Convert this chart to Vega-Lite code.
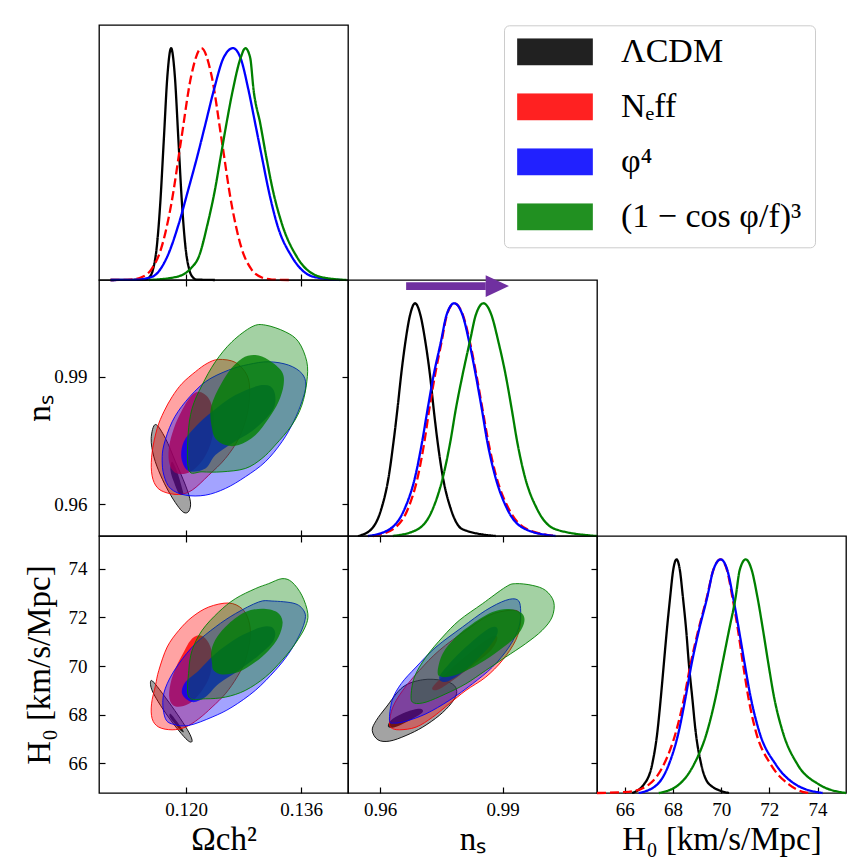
{
"$schema": "https://vega.github.io/schema/vega-lite/v6.json",
"background": "white",
"padding": {"left": 22, "top": 24, "right": 5, "bottom": 5},
"autosize": {"type": "pad"},
"columns": 3,
"spacing": 0,
"bounds": "flush",
"datasets": {
"omc1d": [
{"m":"ΛCDM","x":0.1095,"h":0},{"m":"ΛCDM","x":0.11438,"h":0.002},{"m":"ΛCDM","x":0.11488,"h":0.011},{"m":"ΛCDM","x":0.11539,"h":0.044},{"m":"ΛCDM","x":0.1159,"h":0.135},{"m":"ΛCDM","x":0.1164,"h":0.325},{"m":"ΛCDM","x":0.11691,"h":0.607},{"m":"ΛCDM","x":0.11741,"h":0.883},{"m":"ΛCDM","x":0.11792,"h":1},{"m":"ΛCDM","x":0.11843,"h":0.883},{"m":"ΛCDM","x":0.11893,"h":0.607},{"m":"ΛCDM","x":0.11944,"h":0.325},{"m":"ΛCDM","x":0.11994,"h":0.135},{"m":"ΛCDM","x":0.12045,"h":0.044},{"m":"ΛCDM","x":0.12096,"h":0.011},{"m":"ΛCDM","x":0.12146,"h":0.002},{"m":"ΛCDM","x":0.124,"h":0},
{"m":"Nₑff","x":0.1095,"h":0},{"m":"Nₑff","x":0.11233,"h":0.002},{"m":"Nₑff","x":0.11373,"h":0.011},{"m":"Nₑff","x":0.11513,"h":0.044},{"m":"Nₑff","x":0.11653,"h":0.135},{"m":"Nₑff","x":0.11793,"h":0.325},{"m":"Nₑff","x":0.11933,"h":0.607},{"m":"Nₑff","x":0.12073,"h":0.883},{"m":"Nₑff","x":0.12213,"h":1},{"m":"Nₑff","x":0.12353,"h":0.883},{"m":"Nₑff","x":0.12493,"h":0.607},{"m":"Nₑff","x":0.12633,"h":0.325},{"m":"Nₑff","x":0.12773,"h":0.135},{"m":"Nₑff","x":0.12913,"h":0.044},{"m":"Nₑff","x":0.13053,"h":0.011},{"m":"Nₑff","x":0.13193,"h":0.002},{"m":"Nₑff","x":0.1345,"h":0},
{"m":"φ⁴","x":0.1095,"h":0},{"m":"φ⁴","x":0.11298,"h":0.001},{"m":"φ⁴","x":0.11529,"h":0.014},{"m":"φ⁴","x":0.11737,"h":0.1},{"m":"φ⁴","x":0.11899,"h":0.243},{"m":"φ⁴","x":0.12028,"h":0.387},{"m":"φ⁴","x":0.12153,"h":0.53},{"m":"φ⁴","x":0.12269,"h":0.673},{"m":"φ⁴","x":0.12384,"h":0.817},{"m":"φ⁴","x":0.12523,"h":0.96},{"m":"φ⁴","x":0.12652,"h":1},{"m":"φ⁴","x":0.12754,"h":0.96},{"m":"φ⁴","x":0.12869,"h":0.817},{"m":"φ⁴","x":0.12962,"h":0.673},{"m":"φ⁴","x":0.13054,"h":0.53},{"m":"φ⁴","x":0.13147,"h":0.387},{"m":"φ⁴","x":0.13262,"h":0.243},{"m":"φ⁴","x":0.1347,"h":0.1},{"m":"φ⁴","x":0.13771,"h":0.014},{"m":"φ⁴","x":0.14141,"h":0},
{"m":"(1 − cos φ/f)³","x":0.11483,"h":0},{"m":"(1 − cos φ/f)³","x":0.11871,"h":0.014},{"m":"(1 − cos φ/f)³","x":0.12065,"h":0.05},{"m":"(1 − cos φ/f)³","x":0.12176,"h":0.1},{"m":"(1 − cos φ/f)³","x":0.123,"h":0.243},{"m":"(1 − cos φ/f)³","x":0.124,"h":0.387},{"m":"(1 − cos φ/f)³","x":0.1248,"h":0.53},{"m":"(1 − cos φ/f)³","x":0.1256,"h":0.673},{"m":"(1 − cos φ/f)³","x":0.12648,"h":0.817},{"m":"(1 − cos φ/f)³","x":0.1276,"h":0.96},{"m":"(1 − cos φ/f)³","x":0.12824,"h":1},{"m":"(1 − cos φ/f)³","x":0.1289,"h":0.96},{"m":"(1 − cos φ/f)³","x":0.12939,"h":0.817},{"m":"(1 − cos φ/f)³","x":0.13032,"h":0.673},{"m":"(1 − cos φ/f)³","x":0.13115,"h":0.53},{"m":"(1 − cos φ/f)³","x":0.13206,"h":0.387},{"m":"(1 − cos φ/f)³","x":0.13331,"h":0.243},{"m":"(1 − cos φ/f)³","x":0.13539,"h":0.1},{"m":"(1 − cos φ/f)³","x":0.13864,"h":0.014},{"m":"(1 − cos φ/f)³","x":0.14228,"h":0}
],
"ns1d": [
{"m":"ΛCDM","x":0.95454,"h":0},{"m":"ΛCDM","x":0.9578,"h":0.029},{"m":"ΛCDM","x":0.96024,"h":0.115},{"m":"ΛCDM","x":0.96211,"h":0.259},{"m":"ΛCDM","x":0.96324,"h":0.403},{"m":"ΛCDM","x":0.96422,"h":0.547},{"m":"ΛCDM","x":0.96511,"h":0.691},{"m":"ΛCDM","x":0.96617,"h":0.835},{"m":"ΛCDM","x":0.96731,"h":0.95},{"m":"ΛCDM","x":0.96853,"h":1},{"m":"ΛCDM","x":0.96983,"h":0.95},{"m":"ΛCDM","x":0.97105,"h":0.835},{"m":"ΛCDM","x":0.97219,"h":0.691},{"m":"ΛCDM","x":0.97308,"h":0.547},{"m":"ΛCDM","x":0.97406,"h":0.403},{"m":"ΛCDM","x":0.97528,"h":0.259},{"m":"ΛCDM","x":0.97731,"h":0.115},{"m":"ΛCDM","x":0.98015,"h":0.029},{"m":"ΛCDM","x":0.98828,"h":0},
{"m":"Nₑff","x":0.9582,"h":0},{"m":"Nₑff","x":0.96308,"h":0.029},{"m":"Nₑff","x":0.96674,"h":0.115},{"m":"Nₑff","x":0.96926,"h":0.259},{"m":"Nₑff","x":0.9708,"h":0.403},{"m":"Nₑff","x":0.97203,"h":0.547},{"m":"Nₑff","x":0.97341,"h":0.691},{"m":"Nₑff","x":0.97503,"h":0.835},{"m":"Nₑff","x":0.97633,"h":0.95},{"m":"Nₑff","x":0.97812,"h":1},{"m":"Nₑff","x":0.98024,"h":0.95},{"m":"Nₑff","x":0.98194,"h":0.835},{"m":"Nₑff","x":0.98357,"h":0.691},{"m":"Nₑff","x":0.98503,"h":0.547},{"m":"Nₑff","x":0.9865,"h":0.403},{"m":"Nₑff","x":0.98837,"h":0.259},{"m":"Nₑff","x":0.99154,"h":0.115},{"m":"Nₑff","x":0.99601,"h":0.029},{"m":"Nₑff","x":1.00292,"h":0},
{"m":"φ⁴","x":0.95698,"h":0},{"m":"φ⁴","x":0.96227,"h":0.029},{"m":"φ⁴","x":0.96593,"h":0.115},{"m":"φ⁴","x":0.96861,"h":0.259},{"m":"φ⁴","x":0.97024,"h":0.403},{"m":"φ⁴","x":0.97162,"h":0.547},{"m":"φ⁴","x":0.97308,"h":0.691},{"m":"φ⁴","x":0.97487,"h":0.835},{"m":"φ⁴","x":0.97625,"h":0.95},{"m":"φ⁴","x":0.97812,"h":1},{"m":"φ⁴","x":0.98015,"h":0.95},{"m":"φ⁴","x":0.98178,"h":0.835},{"m":"φ⁴","x":0.98341,"h":0.691},{"m":"φ⁴","x":0.98487,"h":0.547},{"m":"φ⁴","x":0.98625,"h":0.403},{"m":"φ⁴","x":0.98812,"h":0.259},{"m":"φ⁴","x":0.99113,"h":0.115},{"m":"φ⁴","x":0.9956,"h":0.029},{"m":"φ⁴","x":1.00292,"h":0},
{"m":"(1 − cos φ/f)³","x":0.96308,"h":0},{"m":"(1 − cos φ/f)³","x":0.96918,"h":0.029},{"m":"(1 − cos φ/f)³","x":0.97284,"h":0.115},{"m":"(1 − cos φ/f)³","x":0.97544,"h":0.259},{"m":"(1 − cos φ/f)³","x":0.97715,"h":0.403},{"m":"(1 − cos φ/f)³","x":0.97853,"h":0.547},{"m":"(1 − cos φ/f)³","x":0.98015,"h":0.691},{"m":"(1 − cos φ/f)³","x":0.98194,"h":0.835},{"m":"(1 − cos φ/f)³","x":0.98341,"h":0.95},{"m":"(1 − cos φ/f)³","x":0.98528,"h":1},{"m":"(1 − cos φ/f)³","x":0.98723,"h":0.95},{"m":"(1 − cos φ/f)³","x":0.98894,"h":0.835},{"m":"(1 − cos φ/f)³","x":0.99073,"h":0.691},{"m":"(1 − cos φ/f)³","x":0.99219,"h":0.547},{"m":"(1 − cos φ/f)³","x":0.99357,"h":0.403},{"m":"(1 − cos φ/f)³","x":0.99536,"h":0.259},{"m":"(1 − cos φ/f)³","x":0.99845,"h":0.115},{"m":"(1 − cos φ/f)³","x":1.00292,"h":0.029},{"m":"(1 − cos φ/f)³","x":1.01308,"h":0}
],
"h01d": [
{"m":"ΛCDM","x":66.305,"h":0},{"m":"ΛCDM","x":66.79,"h":0.036},{"m":"ΛCDM","x":67.137,"h":0.122},{"m":"ΛCDM","x":67.359,"h":0.265},{"m":"ΛCDM","x":67.498,"h":0.409},{"m":"ΛCDM","x":67.622,"h":0.552},{"m":"ΛCDM","x":67.747,"h":0.696},{"m":"ΛCDM","x":67.886,"h":0.839},{"m":"ΛCDM","x":68.011,"h":0.954},{"m":"ΛCDM","x":68.149,"h":1},{"m":"ΛCDM","x":68.288,"h":0.954},{"m":"ΛCDM","x":68.413,"h":0.839},{"m":"ΛCDM","x":68.551,"h":0.696},{"m":"ΛCDM","x":68.662,"h":0.552},{"m":"ΛCDM","x":68.801,"h":0.409},{"m":"ΛCDM","x":68.94,"h":0.265},{"m":"ΛCDM","x":69.175,"h":0.122},{"m":"ΛCDM","x":69.522,"h":0.036},{"m":"ΛCDM","x":70.326,"h":0},
{"m":"Nₑff","x":64.85,"h":0},{"m":"Nₑff","x":66.166,"h":0.005},{"m":"Nₑff","x":66.998,"h":0.036},{"m":"Nₑff","x":67.622,"h":0.122},{"m":"Nₑff","x":68.135,"h":0.265},{"m":"Nₑff","x":68.468,"h":0.409},{"m":"Nₑff","x":68.732,"h":0.552},{"m":"Nₑff","x":69.05,"h":0.696},{"m":"Nₑff","x":69.411,"h":0.839},{"m":"Nₑff","x":69.674,"h":0.954},{"m":"Nₑff","x":69.98,"h":1},{"m":"Nₑff","x":70.243,"h":0.954},{"m":"Nₑff","x":70.465,"h":0.839},{"m":"Nₑff","x":70.701,"h":0.696},{"m":"Nₑff","x":70.909,"h":0.552},{"m":"Nₑff","x":71.13,"h":0.409},{"m":"Nₑff","x":71.435,"h":0.265},{"m":"Nₑff","x":72.059,"h":0.122},{"m":"Nₑff","x":72.822,"h":0.036},{"m":"Nₑff","x":73.377,"h":0.005},{"m":"Nₑff","x":73.654,"h":0},
{"m":"φ⁴","x":66.582,"h":0},{"m":"φ⁴","x":67.345,"h":0.036},{"m":"φ⁴","x":67.83,"h":0.122},{"m":"φ⁴","x":68.246,"h":0.265},{"m":"φ⁴","x":68.524,"h":0.409},{"m":"φ⁴","x":68.773,"h":0.552},{"m":"φ⁴","x":69.078,"h":0.696},{"m":"φ⁴","x":69.425,"h":0.839},{"m":"φ⁴","x":69.674,"h":0.954},{"m":"φ⁴","x":69.98,"h":1},{"m":"φ⁴","x":70.257,"h":0.954},{"m":"φ⁴","x":70.493,"h":0.839},{"m":"φ⁴","x":70.742,"h":0.696},{"m":"φ⁴","x":70.978,"h":0.552},{"m":"φ⁴","x":71.227,"h":0.409},{"m":"φ⁴","x":71.574,"h":0.265},{"m":"φ⁴","x":72.267,"h":0.122},{"m":"φ⁴","x":73.099,"h":0.036},{"m":"φ⁴","x":74.208,"h":0},
{"m":"(1 − cos φ/f)³","x":67.414,"h":0},{"m":"(1 − cos φ/f)³","x":68.246,"h":0.036},{"m":"(1 − cos φ/f)³","x":68.87,"h":0.122},{"m":"(1 − cos φ/f)³","x":69.425,"h":0.265},{"m":"(1 − cos φ/f)³","x":69.771,"h":0.409},{"m":"(1 − cos φ/f)³","x":70.049,"h":0.552},{"m":"(1 − cos φ/f)³","x":70.326,"h":0.696},{"m":"(1 − cos φ/f)³","x":70.603,"h":0.839},{"m":"(1 − cos φ/f)³","x":70.77,"h":0.954},{"m":"(1 − cos φ/f)³","x":71.019,"h":1},{"m":"(1 − cos φ/f)³","x":71.269,"h":0.954},{"m":"(1 − cos φ/f)³","x":71.505,"h":0.839},{"m":"(1 − cos φ/f)³","x":71.74,"h":0.696},{"m":"(1 − cos φ/f)³","x":71.962,"h":0.552},{"m":"(1 − cos φ/f)³","x":72.198,"h":0.409},{"m":"(1 − cos φ/f)³","x":72.545,"h":0.265},{"m":"(1 − cos φ/f)³","x":73.169,"h":0.122},{"m":"(1 − cos φ/f)³","x":74.07,"h":0.036},{"m":"(1 − cos φ/f)³","x":75.179,"h":0}
],
"c_on": [
{"m":"ΛCDM","cl":95,"i":0,"x":0.11575,"y":0.97877},{"m":"ΛCDM","cl":95,"i":1,"x":0.11714,"y":0.97548},{"m":"ΛCDM","cl":95,"i":2,"x":0.11853,"y":0.96997},{"m":"ΛCDM","cl":95,"i":3,"x":0.11991,"y":0.96448},{"m":"ΛCDM","cl":95,"i":4,"x":0.12061,"y":0.96055},{"m":"ΛCDM","cl":95,"i":5,"x":0.12038,"y":0.95835},{"m":"ΛCDM","cl":95,"i":6,"x":0.11968,"y":0.95804},{"m":"ΛCDM","cl":95,"i":7,"x":0.11876,"y":0.95976},{"m":"ΛCDM","cl":95,"i":8,"x":0.1176,"y":0.9629},{"m":"ΛCDM","cl":95,"i":9,"x":0.11645,"y":0.96683},{"m":"ΛCDM","cl":95,"i":10,"x":0.11552,"y":0.97115},{"m":"ΛCDM","cl":95,"i":11,"x":0.11515,"y":0.97548},
{"m":"ΛCDM","cl":68,"i":0,"x":0.11806,"y":0.96997},{"m":"ΛCDM","cl":68,"i":1,"x":0.11876,"y":0.96762},{"m":"ΛCDM","cl":68,"i":2,"x":0.11945,"y":0.96369},{"m":"ΛCDM","cl":68,"i":3,"x":0.11959,"y":0.96228},{"m":"ΛCDM","cl":68,"i":4,"x":0.11899,"y":0.96251},{"m":"ΛCDM","cl":68,"i":5,"x":0.1183,"y":0.96526},{"m":"ΛCDM","cl":68,"i":6,"x":0.11783,"y":0.96801},
{"m":"Nₑff","cl":95,"i":0,"x":0.12453,"y":0.99409},{"m":"Nₑff","cl":95,"i":1,"x":0.12685,"y":0.99339},{"m":"Nₑff","cl":95,"i":2,"x":0.12846,"y":0.9904},{"m":"Nₑff","cl":95,"i":3,"x":0.12883,"y":0.98647},{"m":"Nₑff","cl":95,"i":4,"x":0.12846,"y":0.98097},{"m":"Nₑff","cl":95,"i":5,"x":0.12731,"y":0.97548},{"m":"Nₑff","cl":95,"i":6,"x":0.12546,"y":0.97076},{"m":"Nₑff","cl":95,"i":7,"x":0.12315,"y":0.96683},{"m":"Nₑff","cl":95,"i":8,"x":0.12084,"y":0.9633},{"m":"Nₑff","cl":95,"i":9,"x":0.11899,"y":0.96228},{"m":"Nₑff","cl":95,"i":10,"x":0.11691,"y":0.9629},{"m":"Nₑff","cl":95,"i":11,"x":0.11575,"y":0.96448},{"m":"Nₑff","cl":95,"i":12,"x":0.1152,"y":0.96762},{"m":"Nₑff","cl":95,"i":13,"x":0.11529,"y":0.97233},{"m":"Nₑff","cl":95,"i":14,"x":0.11598,"y":0.97783},{"m":"Nₑff","cl":95,"i":15,"x":0.11691,"y":0.98176},{"m":"Nₑff","cl":95,"i":16,"x":0.11806,"y":0.98529},{"m":"Nₑff","cl":95,"i":17,"x":0.11945,"y":0.98844},{"m":"Nₑff","cl":95,"i":18,"x":0.1213,"y":0.99119},{"m":"Nₑff","cl":95,"i":19,"x":0.12292,"y":0.99315},
{"m":"Nₑff","cl":68,"i":0,"x":0.12176,"y":0.98647},{"m":"Nₑff","cl":68,"i":1,"x":0.12315,"y":0.9849},{"m":"Nₑff","cl":68,"i":2,"x":0.12384,"y":0.98097},{"m":"Nₑff","cl":68,"i":3,"x":0.12361,"y":0.97548},{"m":"Nₑff","cl":68,"i":4,"x":0.12246,"y":0.97076},{"m":"Nₑff","cl":68,"i":5,"x":0.12061,"y":0.96762},{"m":"Nₑff","cl":68,"i":6,"x":0.11876,"y":0.96723},{"m":"Nₑff","cl":68,"i":7,"x":0.11774,"y":0.96919},{"m":"Nₑff","cl":68,"i":8,"x":0.1176,"y":0.97312},{"m":"Nₑff","cl":68,"i":9,"x":0.1183,"y":0.97783},{"m":"Nₑff","cl":68,"i":10,"x":0.11945,"y":0.98215},{"m":"Nₑff","cl":68,"i":11,"x":0.12061,"y":0.98529},
{"m":"φ⁴","cl":95,"i":0,"x":0.11691,"y":0.97391},{"m":"φ⁴","cl":95,"i":1,"x":0.11806,"y":0.9794},{"m":"φ⁴","cl":95,"i":2,"x":0.11991,"y":0.98412},{"m":"φ⁴","cl":95,"i":3,"x":0.12269,"y":0.98883},{"m":"φ⁴","cl":95,"i":4,"x":0.12592,"y":0.99158},{"m":"φ⁴","cl":95,"i":5,"x":0.12869,"y":0.99291},{"m":"φ⁴","cl":95,"i":6,"x":0.13147,"y":0.99354},{"m":"φ⁴","cl":95,"i":7,"x":0.13424,"y":0.99276},{"m":"φ⁴","cl":95,"i":8,"x":0.13609,"y":0.99079},{"m":"φ⁴","cl":95,"i":9,"x":0.13664,"y":0.98804},{"m":"φ⁴","cl":95,"i":10,"x":0.13609,"y":0.98412},{"m":"φ⁴","cl":95,"i":11,"x":0.13493,"y":0.9794},{"m":"φ⁴","cl":95,"i":12,"x":0.13332,"y":0.97469},{"m":"φ⁴","cl":95,"i":13,"x":0.13101,"y":0.96997},{"m":"φ⁴","cl":95,"i":14,"x":0.12823,"y":0.96644},{"m":"φ⁴","cl":95,"i":15,"x":0.12546,"y":0.96369},{"m":"φ⁴","cl":95,"i":16,"x":0.12269,"y":0.96212},{"m":"φ⁴","cl":95,"i":17,"x":0.11991,"y":0.96212},{"m":"φ⁴","cl":95,"i":18,"x":0.11783,"y":0.96369},{"m":"φ⁴","cl":95,"i":19,"x":0.11691,"y":0.96683},{"m":"φ⁴","cl":95,"i":20,"x":0.11668,"y":0.97037},
{"m":"φ⁴","cl":68,"i":0,"x":0.11968,"y":0.97469},{"m":"φ⁴","cl":68,"i":1,"x":0.1213,"y":0.97822},{"m":"φ⁴","cl":68,"i":2,"x":0.12361,"y":0.98176},{"m":"φ⁴","cl":68,"i":3,"x":0.12685,"y":0.98569},{"m":"φ⁴","cl":68,"i":4,"x":0.13054,"y":0.98804},{"m":"φ⁴","cl":68,"i":5,"x":0.13216,"y":0.98687},{"m":"φ⁴","cl":68,"i":6,"x":0.13216,"y":0.98255},{"m":"φ⁴","cl":68,"i":7,"x":0.12962,"y":0.97783},{"m":"φ⁴","cl":68,"i":8,"x":0.12638,"y":0.9743},{"m":"φ⁴","cl":68,"i":9,"x":0.12407,"y":0.97155},{"m":"φ⁴","cl":68,"i":10,"x":0.12269,"y":0.9684},{"m":"φ⁴","cl":68,"i":11,"x":0.12038,"y":0.96778},{"m":"φ⁴","cl":68,"i":12,"x":0.11936,"y":0.97076},
{"m":"(1 − cos φ/f)³","cl":95,"i":0,"x":0.12038,"y":0.96801},{"m":"(1 − cos φ/f)³","cl":95,"i":1,"x":0.12028,"y":0.97626},{"m":"(1 − cos φ/f)³","cl":95,"i":2,"x":0.12084,"y":0.98255},{"m":"(1 − cos φ/f)³","cl":95,"i":3,"x":0.12222,"y":0.98804},{"m":"(1 − cos φ/f)³","cl":95,"i":4,"x":0.12407,"y":0.99354},{"m":"(1 − cos φ/f)³","cl":95,"i":5,"x":0.12638,"y":0.99826},{"m":"(1 − cos φ/f)³","cl":95,"i":6,"x":0.12916,"y":1.00179},{"m":"(1 − cos φ/f)³","cl":95,"i":7,"x":0.13101,"y":1.00218},{"m":"(1 − cos φ/f)³","cl":95,"i":8,"x":0.13378,"y":1.00061},{"m":"(1 − cos φ/f)³","cl":95,"i":9,"x":0.13562,"y":0.99826},{"m":"(1 − cos φ/f)³","cl":95,"i":10,"x":0.13678,"y":0.99354},{"m":"(1 − cos φ/f)³","cl":95,"i":11,"x":0.13678,"y":0.98883},{"m":"(1 − cos φ/f)³","cl":95,"i":12,"x":0.13609,"y":0.98333},{"m":"(1 − cos φ/f)³","cl":95,"i":13,"x":0.1347,"y":0.97862},{"m":"(1 − cos φ/f)³","cl":95,"i":14,"x":0.13239,"y":0.97391},{"m":"(1 − cos φ/f)³","cl":95,"i":15,"x":0.13054,"y":0.97076},{"m":"(1 − cos φ/f)³","cl":95,"i":16,"x":0.12823,"y":0.9684},{"m":"(1 − cos φ/f)³","cl":95,"i":17,"x":0.125,"y":0.96762},{"m":"(1 − cos φ/f)³","cl":95,"i":18,"x":0.12222,"y":0.96762},
{"m":"(1 − cos φ/f)³","cl":68,"i":0,"x":0.12361,"y":0.97783},{"m":"(1 − cos φ/f)³","cl":68,"i":1,"x":0.12338,"y":0.98176},{"m":"(1 − cos φ/f)³","cl":68,"i":2,"x":0.12407,"y":0.98569},{"m":"(1 − cos φ/f)³","cl":68,"i":3,"x":0.12592,"y":0.99119},{"m":"(1 − cos φ/f)³","cl":68,"i":4,"x":0.12777,"y":0.99433},{"m":"(1 − cos φ/f)³","cl":68,"i":5,"x":0.12962,"y":0.99511},{"m":"(1 − cos φ/f)³","cl":68,"i":6,"x":0.13147,"y":0.99394},{"m":"(1 − cos φ/f)³","cl":68,"i":7,"x":0.13332,"y":0.99119},{"m":"(1 − cos φ/f)³","cl":68,"i":8,"x":0.13355,"y":0.98804},{"m":"(1 − cos φ/f)³","cl":68,"i":9,"x":0.13285,"y":0.98412},{"m":"(1 − cos φ/f)³","cl":68,"i":10,"x":0.13147,"y":0.98019},{"m":"(1 − cos φ/f)³","cl":68,"i":11,"x":0.12962,"y":0.97626},{"m":"(1 − cos φ/f)³","cl":68,"i":12,"x":0.12731,"y":0.97391},{"m":"(1 − cos φ/f)³","cl":68,"i":13,"x":0.12546,"y":0.97391},{"m":"(1 − cos φ/f)³","cl":68,"i":14,"x":0.12407,"y":0.97548}
],
"c_oh": [
{"m":"ΛCDM","cl":95,"i":0,"x":0.1152,"y":69.41},{"m":"ΛCDM","cl":95,"i":1,"x":0.11598,"y":69.163},{"m":"ΛCDM","cl":95,"i":2,"x":0.1176,"y":68.518},{"m":"ΛCDM","cl":95,"i":3,"x":0.11922,"y":67.832},{"m":"ΛCDM","cl":95,"i":4,"x":0.12038,"y":67.283},{"m":"ΛCDM","cl":95,"i":5,"x":0.12084,"y":66.94},{"m":"ΛCDM","cl":95,"i":6,"x":0.12051,"y":66.885},{"m":"ΛCDM","cl":95,"i":7,"x":0.11968,"y":67.105},{"m":"ΛCDM","cl":95,"i":8,"x":0.11806,"y":67.695},{"m":"ΛCDM","cl":95,"i":9,"x":0.11645,"y":68.381},{"m":"ΛCDM","cl":95,"i":10,"x":0.11538,"y":68.93},{"m":"ΛCDM","cl":95,"i":11,"x":0.11506,"y":69.245},
{"m":"ΛCDM","cl":68,"i":0,"x":0.11783,"y":68.038},{"m":"ΛCDM","cl":68,"i":1,"x":0.11862,"y":67.763},{"m":"ΛCDM","cl":68,"i":2,"x":0.11945,"y":67.42},{"m":"ΛCDM","cl":68,"i":3,"x":0.11968,"y":67.283},{"m":"ΛCDM","cl":68,"i":4,"x":0.11922,"y":67.352},{"m":"ΛCDM","cl":68,"i":5,"x":0.11843,"y":67.626},{"m":"ΛCDM","cl":68,"i":6,"x":0.11774,"y":67.901},
{"m":"Nₑff","cl":95,"i":0,"x":0.12592,"y":72.594},{"m":"Nₑff","cl":95,"i":1,"x":0.12777,"y":72.36},{"m":"Nₑff","cl":95,"i":2,"x":0.12869,"y":71.88},{"m":"Nₑff","cl":95,"i":3,"x":0.12892,"y":71.194},{"m":"Nₑff","cl":95,"i":4,"x":0.12823,"y":70.234},{"m":"Nₑff","cl":95,"i":5,"x":0.12708,"y":69.547},{"m":"Nₑff","cl":95,"i":6,"x":0.12546,"y":68.861},{"m":"Nₑff","cl":95,"i":7,"x":0.12361,"y":68.312},{"m":"Nₑff","cl":95,"i":8,"x":0.12176,"y":67.832},{"m":"Nₑff","cl":95,"i":9,"x":0.11991,"y":67.489},{"m":"Nₑff","cl":95,"i":10,"x":0.11806,"y":67.379},{"m":"Nₑff","cl":95,"i":11,"x":0.11621,"y":67.489},{"m":"Nₑff","cl":95,"i":12,"x":0.11529,"y":67.832},{"m":"Nₑff","cl":95,"i":13,"x":0.1152,"y":68.449},{"m":"Nₑff","cl":95,"i":14,"x":0.11575,"y":69.204},{"m":"Nₑff","cl":95,"i":15,"x":0.11621,"y":69.822},{"m":"Nₑff","cl":95,"i":16,"x":0.11737,"y":70.782},{"m":"Nₑff","cl":95,"i":17,"x":0.11899,"y":71.468},{"m":"Nₑff","cl":95,"i":18,"x":0.12084,"y":72.017},{"m":"Nₑff","cl":95,"i":19,"x":0.12315,"y":72.429},
{"m":"Nₑff","cl":68,"i":0,"x":0.12176,"y":71.263},{"m":"Nₑff","cl":68,"i":1,"x":0.12292,"y":71.057},{"m":"Nₑff","cl":68,"i":2,"x":0.12361,"y":70.508},{"m":"Nₑff","cl":68,"i":3,"x":0.12338,"y":69.685},{"m":"Nₑff","cl":68,"i":4,"x":0.12222,"y":68.999},{"m":"Nₑff","cl":68,"i":5,"x":0.12038,"y":68.449},{"m":"Nₑff","cl":68,"i":6,"x":0.11853,"y":68.34},{"m":"Nₑff","cl":68,"i":7,"x":0.11769,"y":68.655},{"m":"Nₑff","cl":68,"i":8,"x":0.11783,"y":69.273},{"m":"Nₑff","cl":68,"i":9,"x":0.11862,"y":69.959},{"m":"Nₑff","cl":68,"i":10,"x":0.11968,"y":70.577},{"m":"Nₑff","cl":68,"i":11,"x":0.12061,"y":71.057},
{"m":"φ⁴","cl":95,"i":0,"x":0.11677,"y":68.587},{"m":"φ⁴","cl":95,"i":1,"x":0.11737,"y":69.273},{"m":"φ⁴","cl":95,"i":2,"x":0.11899,"y":70.096},{"m":"φ⁴","cl":95,"i":3,"x":0.1213,"y":70.92},{"m":"φ⁴","cl":95,"i":4,"x":0.12407,"y":71.606},{"m":"φ⁴","cl":95,"i":5,"x":0.12685,"y":72.155},{"m":"φ⁴","cl":95,"i":6,"x":0.13008,"y":72.635},{"m":"φ⁴","cl":95,"i":7,"x":0.13193,"y":72.676},{"m":"φ⁴","cl":95,"i":8,"x":0.13516,"y":72.566},{"m":"φ⁴","cl":95,"i":9,"x":0.13646,"y":72.223},{"m":"φ⁴","cl":95,"i":10,"x":0.13646,"y":71.812},{"m":"φ⁴","cl":95,"i":11,"x":0.13562,"y":71.194},{"m":"φ⁴","cl":95,"i":12,"x":0.13424,"y":70.508},{"m":"φ⁴","cl":95,"i":13,"x":0.13239,"y":69.822},{"m":"φ⁴","cl":95,"i":14,"x":0.12962,"y":68.999},{"m":"φ⁴","cl":95,"i":15,"x":0.12638,"y":68.312},{"m":"φ⁴","cl":95,"i":16,"x":0.12361,"y":67.901},{"m":"φ⁴","cl":95,"i":17,"x":0.12038,"y":67.558},{"m":"φ⁴","cl":95,"i":18,"x":0.1183,"y":67.599},{"m":"φ⁴","cl":95,"i":19,"x":0.11714,"y":67.832},
{"m":"φ⁴","cl":68,"i":0,"x":0.11945,"y":68.861},{"m":"φ⁴","cl":68,"i":1,"x":0.11991,"y":69.341},{"m":"φ⁴","cl":68,"i":2,"x":0.12176,"y":69.822},{"m":"φ⁴","cl":68,"i":3,"x":0.12407,"y":70.508},{"m":"φ⁴","cl":68,"i":4,"x":0.12731,"y":71.194},{"m":"φ⁴","cl":68,"i":5,"x":0.13054,"y":71.606},{"m":"φ⁴","cl":68,"i":6,"x":0.13216,"y":71.537},{"m":"φ⁴","cl":68,"i":7,"x":0.13216,"y":71.057},{"m":"φ⁴","cl":68,"i":8,"x":0.13008,"y":70.44},{"m":"φ⁴","cl":68,"i":9,"x":0.12731,"y":69.822},{"m":"φ⁴","cl":68,"i":10,"x":0.12453,"y":69.273},{"m":"φ⁴","cl":68,"i":11,"x":0.12269,"y":68.724},{"m":"φ⁴","cl":68,"i":12,"x":0.12084,"y":68.518},
{"m":"(1 − cos φ/f)³","cl":95,"i":0,"x":0.12038,"y":68.724},{"m":"(1 − cos φ/f)³","cl":95,"i":1,"x":0.12038,"y":69.822},{"m":"(1 − cos φ/f)³","cl":95,"i":2,"x":0.12084,"y":70.645},{"m":"(1 − cos φ/f)³","cl":95,"i":3,"x":0.12222,"y":71.468},{"m":"(1 − cos φ/f)³","cl":95,"i":4,"x":0.12453,"y":72.223},{"m":"(1 − cos φ/f)³","cl":95,"i":5,"x":0.12685,"y":72.772},{"m":"(1 − cos φ/f)³","cl":95,"i":6,"x":0.12962,"y":73.184},{"m":"(1 − cos φ/f)³","cl":95,"i":7,"x":0.13147,"y":73.39},{"m":"(1 − cos φ/f)³","cl":95,"i":8,"x":0.13332,"y":73.595},{"m":"(1 − cos φ/f)³","cl":95,"i":9,"x":0.1347,"y":73.458},{"m":"(1 − cos φ/f)³","cl":95,"i":10,"x":0.13609,"y":72.909},{"m":"(1 − cos φ/f)³","cl":95,"i":11,"x":0.13692,"y":72.155},{"m":"(1 − cos φ/f)³","cl":95,"i":12,"x":0.13655,"y":71.606},{"m":"(1 − cos φ/f)³","cl":95,"i":13,"x":0.13516,"y":70.92},{"m":"(1 − cos φ/f)³","cl":95,"i":14,"x":0.13332,"y":70.234},{"m":"(1 − cos φ/f)³","cl":95,"i":15,"x":0.13101,"y":69.547},{"m":"(1 − cos φ/f)³","cl":95,"i":16,"x":0.12823,"y":68.999},{"m":"(1 − cos φ/f)³","cl":95,"i":17,"x":0.12546,"y":68.724},{"m":"(1 − cos φ/f)³","cl":95,"i":18,"x":0.12269,"y":68.655},
{"m":"(1 − cos φ/f)³","cl":68,"i":0,"x":0.12361,"y":70.096},{"m":"(1 − cos φ/f)³","cl":68,"i":1,"x":0.12352,"y":70.645},{"m":"(1 − cos φ/f)³","cl":68,"i":2,"x":0.1243,"y":71.194},{"m":"(1 − cos φ/f)³","cl":68,"i":3,"x":0.12592,"y":71.743},{"m":"(1 − cos φ/f)³","cl":68,"i":4,"x":0.12823,"y":72.223},{"m":"(1 − cos φ/f)³","cl":68,"i":5,"x":0.13054,"y":72.36},{"m":"(1 − cos φ/f)³","cl":68,"i":6,"x":0.13262,"y":72.223},{"m":"(1 − cos φ/f)³","cl":68,"i":7,"x":0.13341,"y":71.812},{"m":"(1 − cos φ/f)³","cl":68,"i":8,"x":0.13285,"y":71.194},{"m":"(1 − cos φ/f)³","cl":68,"i":9,"x":0.13147,"y":70.645},{"m":"(1 − cos φ/f)³","cl":68,"i":10,"x":0.12962,"y":70.165},{"m":"(1 − cos φ/f)³","cl":68,"i":11,"x":0.12731,"y":69.753},{"m":"(1 − cos φ/f)³","cl":68,"i":12,"x":0.125,"y":69.657},{"m":"(1 − cos φ/f)³","cl":68,"i":13,"x":0.12384,"y":69.822}
],
"c_nh": [
{"m":"ΛCDM","cl":95,"i":0,"x":0.95804,"y":67.352},{"m":"ΛCDM","cl":95,"i":1,"x":0.95902,"y":67.763},{"m":"ΛCDM","cl":95,"i":2,"x":0.96146,"y":68.312},{"m":"ΛCDM","cl":95,"i":3,"x":0.96552,"y":69.136},{"m":"ΛCDM","cl":95,"i":4,"x":0.9704,"y":69.438},{"m":"ΛCDM","cl":95,"i":5,"x":0.97528,"y":69.41},{"m":"ΛCDM","cl":95,"i":6,"x":0.97812,"y":69.204},{"m":"ΛCDM","cl":95,"i":7,"x":0.97869,"y":68.861},{"m":"ΛCDM","cl":95,"i":8,"x":0.97731,"y":68.449},{"m":"ΛCDM","cl":95,"i":9,"x":0.97446,"y":67.969},{"m":"ΛCDM","cl":95,"i":10,"x":0.9704,"y":67.489},{"m":"ΛCDM","cl":95,"i":11,"x":0.96633,"y":67.146},{"m":"ΛCDM","cl":95,"i":12,"x":0.96227,"y":66.913},{"m":"ΛCDM","cl":95,"i":13,"x":0.95942,"y":66.968},
{"m":"ΛCDM","cl":68,"i":0,"x":0.96186,"y":67.558},{"m":"ΛCDM","cl":68,"i":1,"x":0.96308,"y":67.832},{"m":"ΛCDM","cl":68,"i":2,"x":0.96633,"y":68.107},{"m":"ΛCDM","cl":68,"i":3,"x":0.96959,"y":68.244},{"m":"ΛCDM","cl":68,"i":4,"x":0.9704,"y":68.107},{"m":"ΛCDM","cl":68,"i":5,"x":0.96796,"y":67.832},{"m":"ΛCDM","cl":68,"i":6,"x":0.96471,"y":67.558},{"m":"ΛCDM","cl":68,"i":7,"x":0.96268,"y":67.462},
{"m":"Nₑff","cl":95,"i":0,"x":0.96227,"y":67.695},{"m":"Nₑff","cl":95,"i":1,"x":0.96308,"y":68.312},{"m":"Nₑff","cl":95,"i":2,"x":0.96552,"y":68.999},{"m":"Nₑff","cl":95,"i":3,"x":0.96959,"y":69.822},{"m":"Nₑff","cl":95,"i":4,"x":0.97446,"y":70.645},{"m":"Nₑff","cl":95,"i":5,"x":0.98097,"y":71.468},{"m":"Nₑff","cl":95,"i":6,"x":0.98666,"y":72.086},{"m":"Nₑff","cl":95,"i":7,"x":0.99154,"y":72.292},{"m":"Nₑff","cl":95,"i":8,"x":0.99398,"y":72.223},{"m":"Nₑff","cl":95,"i":9,"x":0.99438,"y":71.812},{"m":"Nₑff","cl":95,"i":10,"x":0.99317,"y":71.057},{"m":"Nₑff","cl":95,"i":11,"x":0.98991,"y":70.234},{"m":"Nₑff","cl":95,"i":12,"x":0.98585,"y":69.547},{"m":"Nₑff","cl":95,"i":13,"x":0.98097,"y":68.999},{"m":"Nₑff","cl":95,"i":14,"x":0.9769,"y":68.449},{"m":"Nₑff","cl":95,"i":15,"x":0.97284,"y":67.901},{"m":"Nₑff","cl":95,"i":16,"x":0.96877,"y":67.489},{"m":"Nₑff","cl":95,"i":17,"x":0.96471,"y":67.379},{"m":"Nₑff","cl":95,"i":18,"x":0.96268,"y":67.462},
{"m":"Nₑff","cl":68,"i":0,"x":0.97284,"y":69.136},{"m":"Nₑff","cl":68,"i":1,"x":0.9769,"y":69.822},{"m":"Nₑff","cl":68,"i":2,"x":0.9826,"y":70.645},{"m":"Nₑff","cl":68,"i":3,"x":0.98748,"y":71.222},{"m":"Nₑff","cl":68,"i":4,"x":0.98869,"y":71.126},{"m":"Nₑff","cl":68,"i":5,"x":0.98707,"y":70.645},{"m":"Nₑff","cl":68,"i":6,"x":0.9826,"y":70.028},{"m":"Nₑff","cl":68,"i":7,"x":0.97772,"y":69.41},{"m":"Nₑff","cl":68,"i":8,"x":0.97406,"y":69.026},
{"m":"φ⁴","cl":95,"i":0,"x":0.96227,"y":67.763},{"m":"φ⁴","cl":95,"i":1,"x":0.96292,"y":68.587},{"m":"φ⁴","cl":95,"i":2,"x":0.96511,"y":69.273},{"m":"φ⁴","cl":95,"i":3,"x":0.96877,"y":69.959},{"m":"φ⁴","cl":95,"i":4,"x":0.97365,"y":70.782},{"m":"φ⁴","cl":95,"i":5,"x":0.98015,"y":71.606},{"m":"φ⁴","cl":95,"i":6,"x":0.98585,"y":72.292},{"m":"φ⁴","cl":95,"i":7,"x":0.99073,"y":72.704},{"m":"φ⁴","cl":95,"i":8,"x":0.99357,"y":72.731},{"m":"φ⁴","cl":95,"i":9,"x":0.99438,"y":72.36},{"m":"φ⁴","cl":95,"i":10,"x":0.99398,"y":71.606},{"m":"φ⁴","cl":95,"i":11,"x":0.99154,"y":70.782},{"m":"φ⁴","cl":95,"i":12,"x":0.98748,"y":69.959},{"m":"φ⁴","cl":95,"i":13,"x":0.9826,"y":69.273},{"m":"φ⁴","cl":95,"i":14,"x":0.9769,"y":68.587},{"m":"φ⁴","cl":95,"i":15,"x":0.97121,"y":68.038},{"m":"φ⁴","cl":95,"i":16,"x":0.96633,"y":67.736},{"m":"φ⁴","cl":95,"i":17,"x":0.96349,"y":67.654},
{"m":"φ⁴","cl":68,"i":0,"x":0.97446,"y":69.547},{"m":"φ⁴","cl":68,"i":1,"x":0.9769,"y":70.096},{"m":"φ⁴","cl":68,"i":2,"x":0.98097,"y":70.782},{"m":"φ⁴","cl":68,"i":3,"x":0.98585,"y":71.468},{"m":"φ⁴","cl":68,"i":4,"x":0.98829,"y":71.606},{"m":"φ⁴","cl":68,"i":5,"x":0.98869,"y":71.331},{"m":"φ⁴","cl":68,"i":6,"x":0.98666,"y":70.782},{"m":"φ⁴","cl":68,"i":7,"x":0.9826,"y":70.096},{"m":"φ⁴","cl":68,"i":8,"x":0.97853,"y":69.547},{"m":"φ⁴","cl":68,"i":9,"x":0.97568,"y":69.341},
{"m":"(1 − cos φ/f)³","cl":95,"i":0,"x":0.96755,"y":68.724},{"m":"(1 − cos φ/f)³","cl":95,"i":1,"x":0.96837,"y":69.547},{"m":"(1 − cos φ/f)³","cl":95,"i":2,"x":0.97121,"y":70.371},{"m":"(1 − cos φ/f)³","cl":95,"i":3,"x":0.97528,"y":71.194},{"m":"(1 − cos φ/f)³","cl":95,"i":4,"x":0.97935,"y":71.88},{"m":"(1 − cos φ/f)³","cl":95,"i":5,"x":0.98504,"y":72.566},{"m":"(1 − cos φ/f)³","cl":95,"i":6,"x":0.99073,"y":73.253},{"m":"(1 − cos φ/f)³","cl":95,"i":7,"x":0.99317,"y":73.39},{"m":"(1 − cos φ/f)³","cl":95,"i":8,"x":0.99722,"y":73.321},{"m":"(1 − cos φ/f)³","cl":95,"i":9,"x":1.00048,"y":73.115},{"m":"(1 − cos φ/f)³","cl":95,"i":10,"x":1.00251,"y":72.635},{"m":"(1 − cos φ/f)³","cl":95,"i":11,"x":1.0021,"y":72.017},{"m":"(1 − cos φ/f)³","cl":95,"i":12,"x":0.99966,"y":71.468},{"m":"(1 − cos φ/f)³","cl":95,"i":13,"x":0.9956,"y":70.92},{"m":"(1 − cos φ/f)³","cl":95,"i":14,"x":0.99073,"y":70.371},{"m":"(1 − cos φ/f)³","cl":95,"i":15,"x":0.98585,"y":69.822},{"m":"(1 − cos φ/f)³","cl":95,"i":16,"x":0.98097,"y":69.273},{"m":"(1 − cos φ/f)³","cl":95,"i":17,"x":0.97609,"y":68.861},{"m":"(1 − cos φ/f)³","cl":95,"i":18,"x":0.97121,"y":68.518},{"m":"(1 − cos φ/f)³","cl":95,"i":19,"x":0.96837,"y":68.477},
{"m":"(1 − cos φ/f)³","cl":68,"i":0,"x":0.97406,"y":69.753},{"m":"(1 − cos φ/f)³","cl":68,"i":1,"x":0.97528,"y":70.508},{"m":"(1 − cos φ/f)³","cl":68,"i":2,"x":0.97853,"y":71.194},{"m":"(1 − cos φ/f)³","cl":68,"i":3,"x":0.9826,"y":71.743},{"m":"(1 − cos φ/f)³","cl":68,"i":4,"x":0.98748,"y":72.223},{"m":"(1 − cos φ/f)³","cl":68,"i":5,"x":0.99154,"y":72.347},{"m":"(1 − cos φ/f)³","cl":68,"i":6,"x":0.99479,"y":72.155},{"m":"(1 − cos φ/f)³","cl":68,"i":7,"x":0.99519,"y":71.743},{"m":"(1 − cos φ/f)³","cl":68,"i":8,"x":0.99317,"y":71.194},{"m":"(1 − cos φ/f)³","cl":68,"i":9,"x":0.9891,"y":70.645},{"m":"(1 − cos φ/f)³","cl":68,"i":10,"x":0.98423,"y":70.096},{"m":"(1 − cos φ/f)³","cl":68,"i":11,"x":0.97935,"y":69.685},{"m":"(1 − cos φ/f)³","cl":68,"i":12,"x":0.97528,"y":69.547}
],
"arrow": [{"x1": 0.96634, "x2": 0.98585, "xh": 0.98868, "y": 1.074}]
},
"concat": [
{
 "width": 249, "height": 255,
 "data": {"name": "omc1d"},
 "mark": {"type": "line", "interpolate": "monotone"},
 "encoding": {
  "x": {"field": "x", "type": "quantitative", "scale": {"domain": [0.1079, 0.1425], "nice": false, "zero": false}, "axis": {"values": [0.12, 0.136], "labels": false, "title": null}},
  "y": {"field": "h", "type": "quantitative", "scale": {"domain": [0, 1.1], "nice": false}, "axis": null},
  "strokeWidth": {"value": 2.3},
  "stroke": {"field": "m", "type": "nominal", "title": null, "scale": {"domain": ["ΛCDM", "Nₑff", "φ⁴", "(1 − cos φ/f)³"], "range": ["#000000", "#ff0000", "#0000ff", "#008000"]}},
  "strokeDash": {"field": "m", "type": "nominal", "title": null, "scale": {"domain": ["ΛCDM", "Nₑff", "φ⁴", "(1 − cos φ/f)³"], "range": [[1, 0], [9, 4], [1, 0], [1, 0]]}}
 }
},
{"width": 249, "height": 255, "data": {"values": [{"a": 0}]}, "mark": {"type": "point", "opacity": 0}, "encoding": {}, "view": {"stroke": null}},
{"width": 249, "height": 255, "data": {"values": [{"a": 0}]}, "mark": {"type": "point", "opacity": 0}, "encoding": {}, "view": {"stroke": null}},
{
 "width": 249, "height": 256,
 "data": {"name": "c_on"},
 "layer": [
  {"mark": {"type": "line", "interpolate": "cardinal-closed", "filled": true},
   "encoding": {
    "x": {"field": "x", "type": "quantitative", "scale": {"domain": [0.1079, 0.1425], "nice": false, "zero": false}, "axis": {"values": [0.12, 0.136], "labels": false, "title": null}},
    "y": {"field": "y", "type": "quantitative", "scale": {"domain": [0.9525, 1.0128], "nice": false, "zero": false}, "axis": {"values": [0.96, 0.99], "format": ".2f", "title": "nₛ", "titleX": -50, "titleY": 128, "titleBaseline": "alphabetic"}},
    "order": {"field": "i", "type": "quantitative"},
    "detail": {"field": "cl", "type": "nominal"},
    "strokeWidth": {"value": 0.9},
    "fill": {"field": "m", "type": "nominal", "title": null, "scale": {"domain": ["ΛCDM", "Nₑff", "φ⁴", "(1 − cos φ/f)³"], "range": ["#000000", "#ff0000", "#0000ff", "#008000"]},
      "legend": {"orient": "none", "legendX": 405, "legendY": 0.3, "padding": 13, "fillColor": "white", "strokeColor": "#cccccc", "cornerRadius": 5, "symbolType": "M-1,-0.357L1,-0.357L1,0.357L-1,0.357Z", "symbolSize": 5730, "symbolStrokeWidth": 0, "symbolStrokeColor": "transparent", "symbolOpacity": 0.87, "symbolDash": [1, 0], "clipHeight": 27, "rowPadding": 20, "labelFont": "Liberation Serif", "labelFontSize": 34, "labelOffset": 28, "labelColor": "black", "labelLimit": 500}},
    "stroke": {"field": "m", "type": "nominal", "title": null, "scale": {"domain": ["ΛCDM", "Nₑff", "φ⁴", "(1 − cos φ/f)³"], "range": ["#000000", "#ff0000", "#0000ff", "#008000"]}},
    "fillOpacity": {"field": "cl", "type": "quantitative", "scale": {"domain": [68, 95], "range": [0.8, 0.36]}, "legend": null},
    "strokeOpacity": {"field": "cl", "type": "quantitative", "scale": {"domain": [68, 95], "range": [0, 1]}, "legend": null}
   }},
  {"mark": {"type": "point", "opacity": 0},
   "encoding": {
    "x": {"field": "x", "type": "quantitative", "axis": {"orient": "top", "values": [0.12, 0.136], "labels": false, "title": null}},
    "y": {"field": "y", "type": "quantitative", "axis": {"orient": "right", "values": [0.96, 0.99], "labels": false, "title": null}}
   }}
 ],
 "resolve": {"axis": {"x": "independent", "y": "independent"}}
},
{
 "width": 249, "height": 256,
 "layer": [
  {"data": {"name": "ns1d"},
   "mark": {"type": "line", "interpolate": "monotone"},
   "encoding": {
    "x": {"field": "x", "type": "quantitative", "scale": {"domain": [0.9521, 1.0131], "nice": false, "zero": false}, "axis": {"values": [0.96, 0.99], "labels": false, "title": null}},
    "y": {"field": "h", "type": "quantitative", "scale": {"domain": [0, 1.1], "nice": false}, "axis": null},
    "strokeWidth": {"value": 2.3},
    "stroke": {"field": "m", "type": "nominal", "title": null, "scale": {"domain": ["ΛCDM", "Nₑff", "φ⁴", "(1 − cos φ/f)³"], "range": ["#000000", "#ff0000", "#0000ff", "#008000"]}},
    "strokeDash": {"field": "m", "type": "nominal", "title": null, "scale": {"domain": ["ΛCDM", "Nₑff", "φ⁴", "(1 − cos φ/f)³"], "range": [[1, 0], [9, 4], [1, 0], [1, 0]]}}
   }},
  {"data": {"name": "arrow"},
   "mark": {"type": "rule", "strokeWidth": 7.7, "color": "#7030a0", "strokeCap": "butt"},
   "encoding": {
    "x": {"field": "x1", "type": "quantitative", "axis": null},
    "x2": {"field": "x2"},
    "y": {"field": "y", "type": "quantitative", "axis": null}
   }},
  {"data": {"name": "arrow"},
   "mark": {"type": "point", "filled": true, "opacity": 1, "color": "#7030a0", "strokeWidth": 0, "size": 543, "shape": "M-1,-0.93L1,0L-1,0.93Z"},
   "encoding": {
    "x": {"field": "xh", "type": "quantitative", "axis": null},
    "y": {"field": "y", "type": "quantitative", "axis": null}
   }}
 ]
},
{"width": 249, "height": 256, "data": {"values": [{"a": 0}]}, "mark": {"type": "point", "opacity": 0}, "encoding": {}, "view": {"stroke": null}},
{
 "width": 249, "height": 257,
 "data": {"name": "c_oh"},
 "layer": [
  {"mark": {"type": "line", "interpolate": "cardinal-closed", "filled": true},
   "encoding": {
    "x": {"field": "x", "type": "quantitative", "scale": {"domain": [0.1079, 0.1425], "nice": false, "zero": false}, "axis": {"values": [0.12, 0.136], "format": ".3f", "title": "Ωch²", "titleY": 56, "titleBaseline": "alphabetic"}},
    "y": {"field": "y", "type": "quantitative", "scale": {"domain": [64.78, 75.35], "nice": false, "zero": false}, "axis": {"values": [66, 68, 70, 72, 74], "format": "d", "title": "H₀ [km/s/Mpc]", "titleX": -50, "titleY": 128.5, "titleBaseline": "alphabetic"}},
    "order": {"field": "i", "type": "quantitative"},
    "detail": {"field": "cl", "type": "nominal"},
    "strokeWidth": {"value": 0.9},
    "fill": {"field": "m", "type": "nominal", "title": null, "scale": {"domain": ["ΛCDM", "Nₑff", "φ⁴", "(1 − cos φ/f)³"], "range": ["#000000", "#ff0000", "#0000ff", "#008000"]},
      "legend": {"orient": "none", "legendX": 405, "legendY": 0.3, "padding": 13, "fillColor": "white", "strokeColor": "#cccccc", "cornerRadius": 5, "symbolType": "M-1,-0.357L1,-0.357L1,0.357L-1,0.357Z", "symbolSize": 5730, "symbolStrokeWidth": 0, "symbolStrokeColor": "transparent", "symbolOpacity": 0.87, "symbolDash": [1, 0], "clipHeight": 27, "rowPadding": 20, "labelFont": "Liberation Serif", "labelFontSize": 34, "labelOffset": 28, "labelColor": "black", "labelLimit": 500}},
    "stroke": {"field": "m", "type": "nominal", "title": null, "scale": {"domain": ["ΛCDM", "Nₑff", "φ⁴", "(1 − cos φ/f)³"], "range": ["#000000", "#ff0000", "#0000ff", "#008000"]}},
    "fillOpacity": {"field": "cl", "type": "quantitative", "scale": {"domain": [68, 95], "range": [0.8, 0.36]}, "legend": null},
    "strokeOpacity": {"field": "cl", "type": "quantitative", "scale": {"domain": [68, 95], "range": [0, 1]}, "legend": null}
   }},
  {"mark": {"type": "point", "opacity": 0},
   "encoding": {
    "x": {"field": "x", "type": "quantitative", "axis": {"orient": "top", "values": [0.12, 0.136], "labels": false, "title": null}},
    "y": {"field": "y", "type": "quantitative", "axis": {"orient": "right", "values": [66, 68, 70, 72, 74], "labels": false, "title": null}}
   }}
 ],
 "resolve": {"axis": {"x": "independent", "y": "independent"}}
},
{
 "width": 249, "height": 257,
 "data": {"name": "c_nh"},
 "layer": [
  {"mark": {"type": "line", "interpolate": "cardinal-closed", "filled": true},
   "encoding": {
    "x": {"field": "x", "type": "quantitative", "scale": {"domain": [0.9521, 1.0131], "nice": false, "zero": false}, "axis": {"values": [0.96, 0.99], "format": ".2f", "title": "nₛ", "titleY": 56, "titleBaseline": "alphabetic"}},
    "y": {"field": "y", "type": "quantitative", "scale": {"domain": [64.78, 75.35], "nice": false, "zero": false}, "axis": null},
    "order": {"field": "i", "type": "quantitative"},
    "detail": {"field": "cl", "type": "nominal"},
    "strokeWidth": {"value": 0.9},
    "fill": {"field": "m", "type": "nominal", "title": null, "scale": {"domain": ["ΛCDM", "Nₑff", "φ⁴", "(1 − cos φ/f)³"], "range": ["#000000", "#ff0000", "#0000ff", "#008000"]},
      "legend": {"orient": "none", "legendX": 405, "legendY": 0.3, "padding": 13, "fillColor": "white", "strokeColor": "#cccccc", "cornerRadius": 5, "symbolType": "M-1,-0.357L1,-0.357L1,0.357L-1,0.357Z", "symbolSize": 5730, "symbolStrokeWidth": 0, "symbolStrokeColor": "transparent", "symbolOpacity": 0.87, "symbolDash": [1, 0], "clipHeight": 27, "rowPadding": 20, "labelFont": "Liberation Serif", "labelFontSize": 34, "labelOffset": 28, "labelColor": "black", "labelLimit": 500}},
    "stroke": {"field": "m", "type": "nominal", "title": null, "scale": {"domain": ["ΛCDM", "Nₑff", "φ⁴", "(1 − cos φ/f)³"], "range": ["#000000", "#ff0000", "#0000ff", "#008000"]}},
    "fillOpacity": {"field": "cl", "type": "quantitative", "scale": {"domain": [68, 95], "range": [0.8, 0.36]}, "legend": null},
    "strokeOpacity": {"field": "cl", "type": "quantitative", "scale": {"domain": [68, 95], "range": [0, 1]}, "legend": null}
   }},
  {"mark": {"type": "point", "opacity": 0},
   "encoding": {
    "x": {"field": "x", "type": "quantitative", "axis": {"orient": "top", "values": [0.96, 0.99], "labels": false, "title": null}},
    "y": {"field": "y", "type": "quantitative", "axis": {"orient": "right", "values": [66, 68, 70, 72, 74], "labels": false, "title": null}}
   }}
 ],
 "resolve": {"axis": {"x": "independent", "y": "independent"}}
},
{
 "width": 249, "height": 257,
 "data": {"name": "h01d"},
 "mark": {"type": "line", "interpolate": "monotone"},
 "encoding": {
  "x": {"field": "x", "type": "quantitative", "scale": {"domain": [64.85, 75.18], "nice": false, "zero": false}, "axis": {"values": [66, 68, 70, 72, 74], "format": "d", "title": "H₀ [km/s/Mpc]", "titleY": 56, "titleBaseline": "alphabetic"}},
  "y": {"field": "h", "type": "quantitative", "scale": {"domain": [0, 1.1], "nice": false}, "axis": null},
  "strokeWidth": {"value": 2.3},
  "stroke": {"field": "m", "type": "nominal", "title": null, "scale": {"domain": ["ΛCDM", "Nₑff", "φ⁴", "(1 − cos φ/f)³"], "range": ["#000000", "#ff0000", "#0000ff", "#008000"]}},
  "strokeDash": {"field": "m", "type": "nominal", "title": null, "scale": {"domain": ["ΛCDM", "Nₑff", "φ⁴", "(1 − cos φ/f)³"], "range": [[1, 0], [9, 4], [1, 0], [1, 0]]}}
 }
}
],
"config": {
 "view": {"stroke": "black", "strokeWidth": 1.3},
 "axis": {"domain": false, "grid": false, "ticks": true, "tickColor": "black", "tickWidth": 1.2, "tickSize": -6, "labelFont": "Liberation Serif", "labelFontSize": 19, "labelColor": "black", "labelFlush": false, "labelOverlap": false, "titleFont": "Liberation Serif", "titleFontSize": 33, "titleFontWeight": "normal", "titleColor": "black"},
 "axisX": {"labelPadding": 13},
 "axisY": {"labelPadding": 18},
 "legend": {"orient": "none", "legendX": 405, "legendY": 0.3, "padding": 13, "fillColor": "white", "strokeColor": "#cccccc", "cornerRadius": 5, "symbolSize": 5730, "symbolStrokeWidth": 0, "symbolStrokeColor": "transparent", "symbolOpacity": 0.87, "clipHeight": 27, "rowPadding": 20, "labelFont": "Liberation Serif", "labelFontSize": 34, "labelOffset": 28, "labelColor": "black", "labelLimit": 500}
}
}
